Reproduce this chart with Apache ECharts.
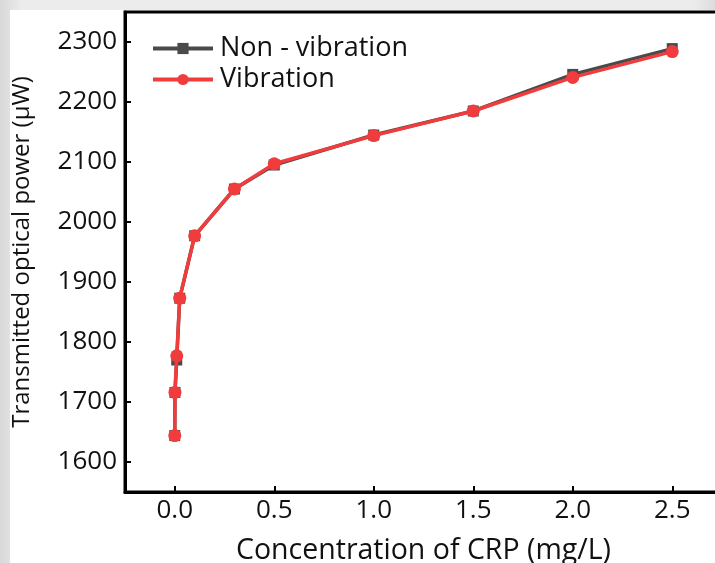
<!DOCTYPE html>
<html><head><meta charset="utf-8">
<script src="https://cdn.jsdelivr.net/npm/echarts@6/dist/echarts.min.js"></script>
<style>
html,body{margin:0;padding:0;width:715px;height:563px;overflow:hidden;background:linear-gradient(90deg,#d8d8d8,#ececec 3%,#ececec 97%,#dcdcdc);}
#frame{position:absolute;left:10px;top:10px;width:705px;height:553px;background:#fff;}
#c{position:absolute;left:0;top:0;width:715px;height:563px;}
</style></head>
<body><div id="frame"></div><div id="c"></div>
<script>
const concentrations = [0, 0.001, 0.01, 0.025, 0.1, 0.3, 0.5, 1.0, 1.5, 2.0, 2.5];
const nonVibration = [1644, 1716, 1770, 1873, 1977, 2055, 2095, 2145, 2185, 2246, 2289];
const vibration    = [1644, 1716, 1777, 1873, 1977, 2055, 2097, 2144, 2185, 2241, 2284];
const xTicks = [0, 0.5, 1.0, 1.5, 2.0, 2.5];
const yTicks = [1600, 1700, 1800, 1900, 2000, 2100, 2200, 2300];

const font = 'Open Sans';
const chart = echarts.init(document.getElementById('c'));
chart.setOption({
  backgroundColor: 'transparent',
  textStyle: {fontFamily: font},
  grid: {left: 125, top: 12, width: 597, height: 480, outerBoundsMode: 'none', containLabel: false,
         show: true, borderColor: '#000', borderWidth: 3, backgroundColor: 'transparent'},
  legend: {
    orient: 'vertical', left: 146, top: 28, itemWidth: 60, itemHeight: 14, itemGap: 0,
    lineStyle: {width: 4},
    textStyle: {fontFamily: font, fontSize: 27, color: '#111', lineHeight: 31, padding: [0, 0, 0, 2]},
    data: ['Non - vibration', 'Vibration']
  },
  xAxis: {
    type: 'value', min: -0.25, max: 2.75,
    name: 'Concentration of CRP (mg/L)', nameLocation: 'middle', nameGap: 44,
    nameTextStyle: {fontFamily: font, fontSize: 28.5, color: '#111'},
    axisLine: {show: true, onZero: false, lineStyle: {color: '#000', width: 3}},
    axisTick: {show: true, inside: true, length: 6, lineStyle: {color: '#000', width: 2}, customValues: xTicks},
    axisLabel: {fontFamily: font, fontSize: 26, color: '#111', margin: 6, customValues: xTicks, formatter: v => v.toFixed(1)},
    splitLine: {show: false}
  },
  yAxis: {
    type: 'value', min: 1550, max: 2350,
    name: 'Transmitted optical power (μW)', nameLocation: 'middle', nameGap: 91, nameRotate: 90,
    nameTextStyle: {fontFamily: font, fontSize: 24, color: '#111'},
    axisLine: {show: true, onZero: false, lineStyle: {color: '#000', width: 3}},
    axisTick: {show: true, inside: true, length: 6, lineStyle: {color: '#000', width: 2}, customValues: yTicks},
    axisLabel: {fontFamily: font, fontSize: 26, color: '#111', margin: 8, customValues: yTicks, formatter: v => String(v)},
    splitLine: {show: false}
  },
  series: [
    {name: 'Non - vibration', type: 'line', data: concentrations.map((x, i) => [x, nonVibration[i]]),
     symbol: 'rect', symbolSize: 11, itemStyle: {color: '#4a4a4a'}, lineStyle: {color: '#4a4a4a', width: 3.5}, z: 2},
    {name: 'Vibration', type: 'line', data: concentrations.map((x, i) => [x, vibration[i]]),
     symbol: 'circle', symbolSize: 13, itemStyle: {color: '#f03c3c'}, lineStyle: {color: '#f03c3c', width: 3.5}, z: 3}
  ]
});
</script></body></html>
